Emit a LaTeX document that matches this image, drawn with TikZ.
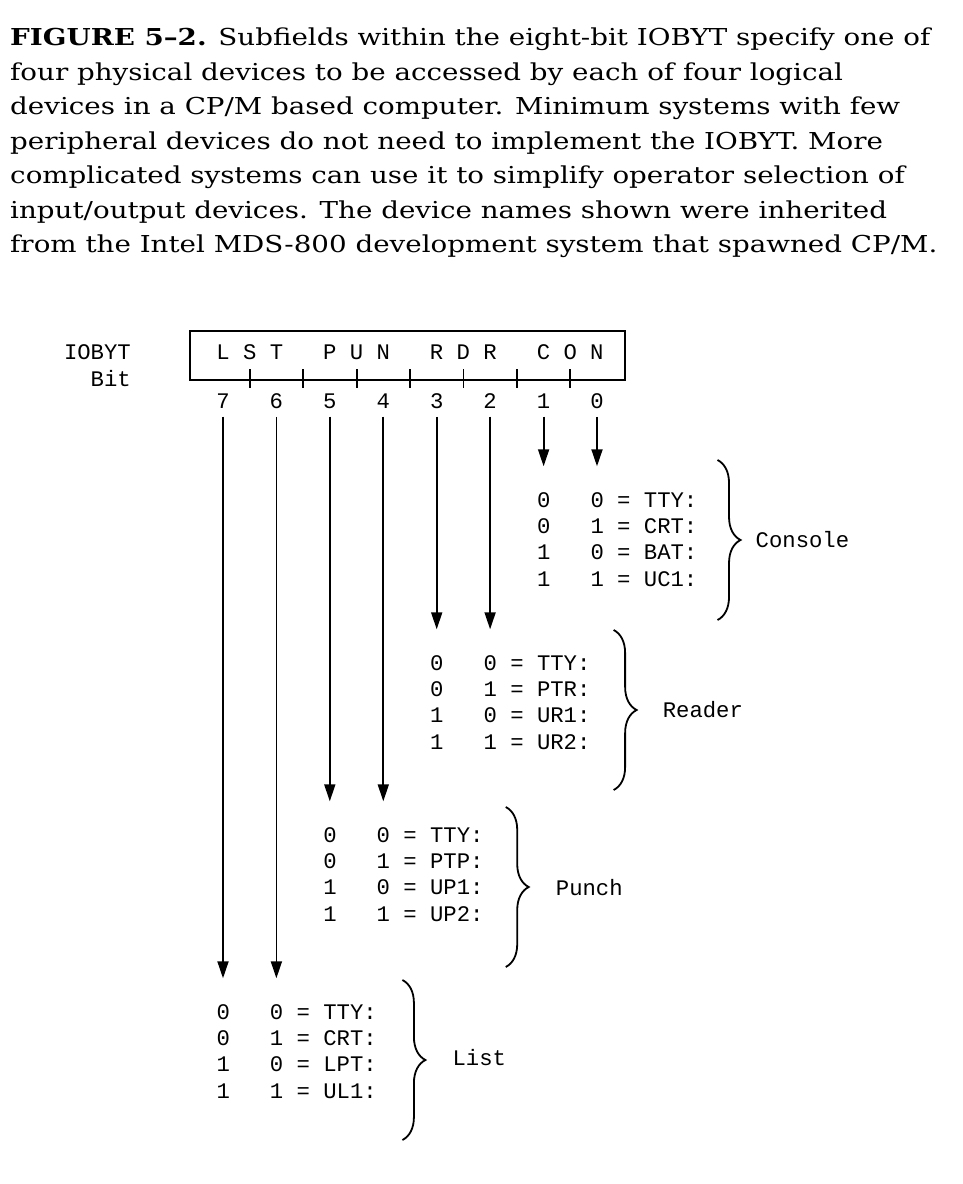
\documentclass[tikz,border=0pt]{standalone}
\usepackage{fontspec}
\setmainfont{DejaVu Serif}
\newfontfamily\typer{Liberation Mono}
\usepackage{tikz}
\usetikzlibrary{arrows.meta,decorations.pathreplacing,positioning}
\tikzstyle{Digit}=[inner sep=0pt, font=\fontsize{22.25}{26.3}\selectfont\typer]
\tikzstyle{Table}=[Digit, align=left, anchor=west]
\tikzstyle{Wire}=[line width=1.8pt, shorten <=8pt, shorten >=26pt, -{Triangle[length=17pt,width=11pt]}]
\tikzstyle{Brace}=[line width=1.8pt, decorate, decoration={brace, amplitude=23pt}]

\begin{document}
\begin{tikzpicture}[x=1pt, y=-1pt]
    \useasboundingbox (0,0) rectangle (962,1184);

    \node[anchor=north west, inner sep=0pt, align=left, xscale=1.19, transform shape,
    font=\fontsize{23.3}{34.5}\selectfont] (caption) at (10,28)
    {\textbf{FIGURE 5--2.} Subfields within the eight-bit IOBYT specify one of\\
    four physical devices to be accessed by each of four logical\\
    devices in a CP/M based computer. Minimum systems with few\\
    peripheral devices do not need to implement the IOBYT. More\\
    complicated systems can use it to simplify operator selection of\\
    input/output devices. The device names shown were inherited\\
    from the Intel MDS-800 development system that spawned CP/M.};

    \path
    (131,352) node[Digit, anchor=east] (iobyt) {IOBYT}
    (131,379) node[Digit, anchor=east] (bitlabel) {Bit}
    (407.5,355.5) node[draw, line width=1.8pt, minimum width=435pt, minimum height=49pt] (reg) {}
    (410,352) node[Digit] (fields) {L~S~T~~~P~U~N~~~R~D~R~~~C~O~N};

    % bit numbers under the register
    \path
    (223,401) node[Digit] (n7) {7}
    (276.4,401) node[Digit] (n6) {6}
    (329.8,401) node[Digit] (n5) {5}
    (383.3,401) node[Digit] (n4) {4}
    (436.7,401) node[Digit] (n3) {3}
    (490.1,401) node[Digit] (n2) {2}
    (543.6,401) node[Digit] (n1) {1}
    (597,401) node[Digit] (n0) {0};

    \draw[line width=1.8pt] (249.7,369) -- (249.7,388) (303.1,369) -- (303.1,388)
    (356.6,369) -- (356.6,388) (410,369) -- (410,388) (463.4,369) -- (463.4,388)
    (516.8,369) -- (516.8,388) (570.3,369) -- (570.3,388);

    \path
    (536.9,539.5) node[Table] (con) {0~~~0~=~TTY:\\0~~~1~=~CRT:\\1~~~0~=~BAT:\\1~~~1~=~UC1:}
    (430,702.5) node[Table] (rdr) {0~~~0~=~TTY:\\0~~~1~=~PTR:\\1~~~0~=~UR1:\\1~~~1~=~UR2:}
    (323.1,874.5) node[Table] (pun) {0~~~0~=~TTY:\\0~~~1~=~PTP:\\1~~~0~=~UP1:\\1~~~1~=~UP2:}
    (216.3,1051.5) node[Table] (lst) {0~~~0~=~TTY:\\0~~~1~=~CRT:\\1~~~0~=~LPT:\\1~~~1~=~UL1:};

    \node[Digit, right=58pt of con] (conlabel) {Console};
    \node[Digit, right=72pt of rdr, yshift=-7.5pt] (rdrlabel) {Reader};
    \node[Digit, right=72pt of pun, yshift=-13.5pt] (punlabel) {Punch};
    \node[Digit, right=75.5pt of lst, yshift=-6.5pt] (lstlabel) {List};

    \draw[Wire] (n1) -- (n1 |- con.north);
    \draw[Wire] (n0) -- (n0 |- con.north);
    \draw[Wire] (n3) -- (n3 |- rdr.north);
    \draw[Wire] (n2) -- (n2 |- rdr.north);
    \draw[Wire] (n5) -- (n5 |- pun.north);
    \draw[Wire] (n4) -- (n4 |- pun.north);
    \draw[Wire] (n7) -- (n7 |- lst.north);
    \draw[Wire] (n6) -- (n6 |- lst.north);

    \draw[Brace] ([shift={(20,-79.5)}]con.east) -- ([shift={(20,80.5)}]con.east);
    \draw[Brace] ([shift={(23,-72.5)}]rdr.east) -- ([shift={(23,87.5)}]rdr.east);
    \draw[Brace] ([shift={(22,-67.5)}]pun.east) -- ([shift={(22,92.5)}]pun.east);
    \draw[Brace] ([shift={(25.5,-71.5)}]lst.east) -- ([shift={(25.5,88.5)}]lst.east);
\end{tikzpicture}
\end{document}
